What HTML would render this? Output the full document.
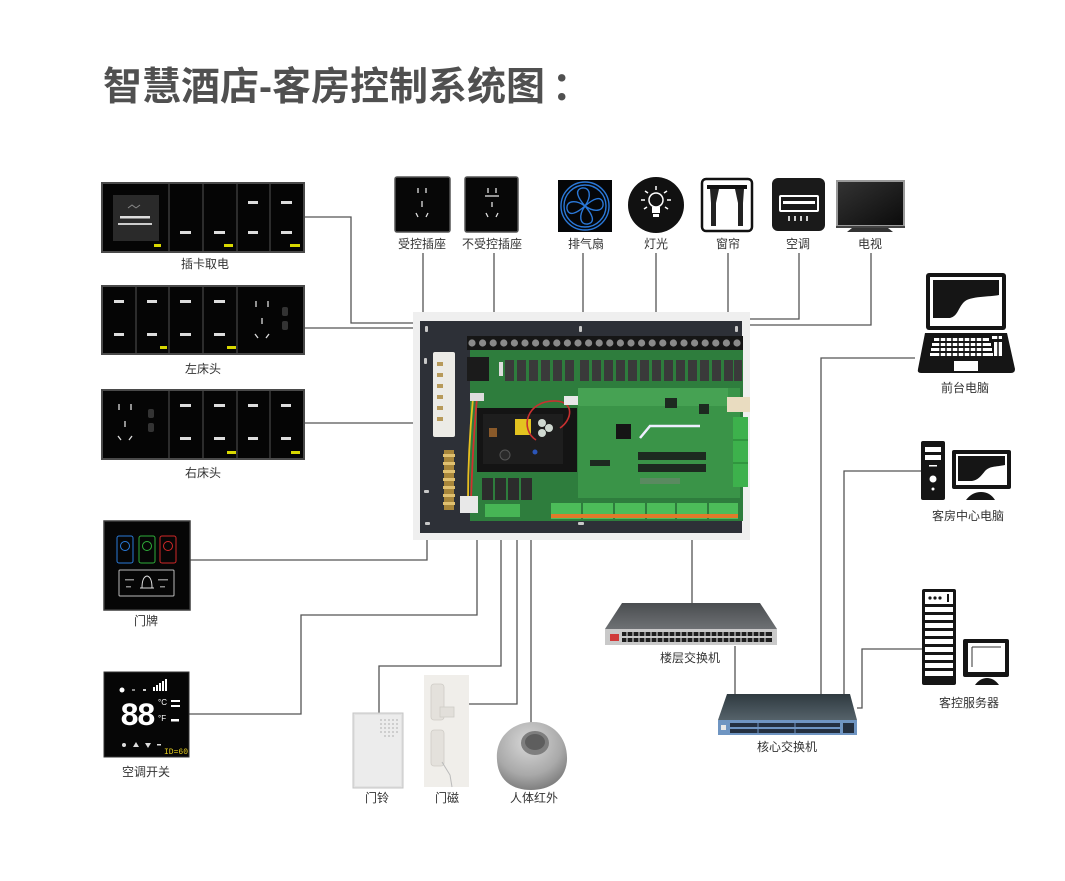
<!DOCTYPE html>
<html>
<head>
<meta charset="utf-8">
<style>
html,body{margin:0;padding:0;background:#fff;}
body{width:1065px;height:881px;overflow:hidden;}
svg{display:block;}
.lbl{font-family:"Liberation Sans","Noto Sans CJK SC",sans-serif;font-size:12px;fill:#333;text-anchor:middle;}
.ttl{font-family:"Liberation Sans","Noto Sans CJK SC",sans-serif;font-size:39px;font-weight:bold;fill:#505050;}
.ln{stroke:#555;stroke-width:1.3;fill:none;}
</style>
</head>
<body>
<svg width="1065" height="881" viewBox="0 0 1065 881" xmlns="http://www.w3.org/2000/svg">
<defs>
<linearGradient id="tvg" x1="0" y1="0" x2="1" y2="1"><stop offset="0" stop-color="#333"/><stop offset="1" stop-color="#0b0b0b"/></linearGradient>
<linearGradient id="swg" x1="0" y1="0" x2="0" y2="1"><stop offset="0" stop-color="#4a4d50"/><stop offset="1" stop-color="#6e7174"/></linearGradient>
<linearGradient id="csg" x1="0" y1="0" x2="0" y2="1"><stop offset="0" stop-color="#2f3a40"/><stop offset="1" stop-color="#55626a"/></linearGradient>
<radialGradient id="pir" cx="0.45" cy="0.3" r="0.8"><stop offset="0" stop-color="#d8d8d8"/><stop offset="0.6" stop-color="#a9a9a9"/><stop offset="1" stop-color="#6d6d6d"/></radialGradient>
</defs>

<!-- Title -->
<text x="103" y="100" class="ttl">智慧酒店-客房控制系统图</text>
<text x="552" y="100" class="ttl">：</text>

<!-- ============ connectors ============ -->
<g class="ln">
  <polyline points="304,217 351,217 351,323 415,323"/>
  <line x1="304" y1="328" x2="415" y2="328"/>
  <line x1="304" y1="423" x2="415" y2="423"/>
  <line x1="423" y1="253" x2="423" y2="313"/>
  <line x1="494" y1="253" x2="494" y2="313"/>
  <line x1="583" y1="253" x2="583" y2="313"/>
  <line x1="656" y1="253" x2="656" y2="313"/>
  <line x1="728" y1="253" x2="728" y2="313"/>
  <polyline points="799,253 799,319 750,319"/>
  <polyline points="871,253 871,325 750,325"/>
  <polyline points="427,540 427,560 190,560"/>
  <polyline points="477,540 477,615 301,615 301,714 189,714"/>
  <polyline points="501,540 501,666 379,666 379,713"/>
  <polyline points="517,540 517,704 469,704"/>
  <line x1="531" y1="540" x2="531" y2="723"/>
  <line x1="692" y1="540" x2="692" y2="603"/>
  <line x1="735" y1="646" x2="735" y2="694"/>
  <polyline points="915,358 821,358 821,694"/>
  <polyline points="921,471 844,471 844,694"/>
  <polyline points="922,649 862,649 862,708 857,708"/>
</g>

<!-- ============ left panels ============ -->
<g>
  <rect x="102" y="183" width="202" height="69" fill="#050505" stroke="#4a4a4a" stroke-width="2"/>
  <g stroke="#3a3a3a" stroke-width="1.5"><line x1="169" y1="184" x2="169" y2="251"/><line x1="203" y1="184" x2="203" y2="251"/><line x1="237" y1="184" x2="237" y2="251"/><line x1="270" y1="184" x2="270" y2="251"/></g>
  <rect x="113" y="195" width="46" height="46" fill="#2a2a2a"/>
  <path d="M128 208 l4 -3 l4 3 M136 208 l4 -3" stroke="#888" stroke-width="1" fill="none"/>
  <rect x="120" y="216" width="30" height="2.5" fill="#ddd"/>
  <rect x="118" y="223" width="34" height="2" fill="#ccc"/>
  <g fill="#ddd">
    <rect x="180" y="231" width="11" height="3"/><rect x="214" y="231" width="11" height="3"/>
    <rect x="248" y="201" width="10" height="3"/><rect x="248" y="231" width="10" height="3"/>
    <rect x="281" y="201" width="11" height="3"/><rect x="281" y="231" width="11" height="3"/>
  </g>
  <g fill="#d8d800"><rect x="154" y="244" width="7" height="3"/><rect x="224" y="244" width="9" height="3"/><rect x="290" y="244" width="10" height="3"/></g>
</g>
<text x="205" y="268" class="lbl">插卡取电</text>

<g>
  <rect x="102" y="286" width="202" height="68" fill="#050505" stroke="#4a4a4a" stroke-width="2"/>
  <g stroke="#3a3a3a" stroke-width="1.5"><line x1="136" y1="287" x2="136" y2="353"/><line x1="169" y1="287" x2="169" y2="353"/><line x1="203" y1="287" x2="203" y2="353"/><line x1="237" y1="287" x2="237" y2="353"/></g>
  <g fill="#ddd">
    <rect x="114" y="300" width="10" height="3"/><rect x="114" y="333" width="10" height="3"/>
    <rect x="147" y="300" width="10" height="3"/><rect x="147" y="333" width="10" height="3"/>
    <rect x="180" y="300" width="11" height="3"/><rect x="180" y="333" width="11" height="3"/>
    <rect x="214" y="300" width="11" height="3"/><rect x="214" y="333" width="11" height="3"/>
  </g>
  <g stroke="#ddd" stroke-width="1.3" fill="none">
    <line x1="256" y1="301" x2="256" y2="307"/><line x1="268" y1="301" x2="268" y2="307"/>
    <line x1="262" y1="318" x2="262" y2="324"/>
    <path d="M255 334 l3 4 M269 334 l-3 4"/>
  </g>
  <rect x="282" y="307" width="6" height="9" rx="2" fill="#333"/><rect x="282" y="321" width="6" height="9" rx="2" fill="#333"/>
  <g fill="#d8d800"><rect x="160" y="346" width="7" height="3"/><rect x="227" y="346" width="9" height="3"/></g>
</g>
<text x="203" y="373" class="lbl">左床头</text>

<g>
  <rect x="102" y="390" width="202" height="69" fill="#050505" stroke="#4a4a4a" stroke-width="2"/>
  <g stroke="#3a3a3a" stroke-width="1.5"><line x1="169" y1="391" x2="169" y2="458"/><line x1="203" y1="391" x2="203" y2="458"/><line x1="237" y1="391" x2="237" y2="458"/><line x1="270" y1="391" x2="270" y2="458"/></g>
  <g stroke="#ddd" stroke-width="1.3" fill="none">
    <line x1="119" y1="404" x2="119" y2="410"/><line x1="131" y1="404" x2="131" y2="410"/>
    <line x1="125" y1="421" x2="125" y2="427"/>
    <path d="M118 436 l3 4 M132 436 l-3 4"/>
  </g>
  <rect x="148" y="409" width="6" height="9" rx="2" fill="#333"/><rect x="148" y="423" width="6" height="9" rx="2" fill="#333"/>
  <g fill="#ddd">
    <rect x="180" y="404" width="11" height="3"/><rect x="180" y="437" width="11" height="3"/>
    <rect x="214" y="404" width="11" height="3"/><rect x="214" y="437" width="11" height="3"/>
    <rect x="248" y="404" width="10" height="3"/><rect x="248" y="437" width="10" height="3"/>
    <rect x="281" y="404" width="10" height="3"/><rect x="281" y="437" width="10" height="3"/>
  </g>
  <g fill="#d8d800"><rect x="227" y="451" width="9" height="3"/><rect x="291" y="451" width="9" height="3"/></g>
</g>
<text x="203" y="477" class="lbl">右床头</text>

<!-- ============ top devices ============ -->
<g>
  <rect x="395" y="177" width="55" height="55" rx="2" fill="#070707" stroke="#555" stroke-width="1.5"/>
  <g stroke="#e0e0e0" stroke-width="1.3" fill="none">
    <line x1="418" y1="188" x2="418" y2="193"/><line x1="426" y1="188" x2="426" y2="193"/>
    <line x1="422" y1="201" x2="422" y2="207"/>
    <path d="M416 213 l2 4 M428 213 l-2 4"/>
  </g>
</g>
<text x="422" y="248" class="lbl">受控插座</text>
<g>
  <rect x="465" y="177" width="53" height="55" rx="2" fill="#070707" stroke="#555" stroke-width="1.5"/>
  <g stroke="#e0e0e0" stroke-width="1.3" fill="none">
    <line x1="488" y1="188" x2="488" y2="193"/><line x1="496" y1="188" x2="496" y2="193"/>
    <line x1="485" y1="196" x2="499" y2="196"/>
    <line x1="492" y1="202" x2="492" y2="207"/>
    <path d="M486 213 l2 4 M498 213 l-2 4"/>
  </g>
</g>
<text x="492" y="248" class="lbl">不受控插座</text>
<g>
  <rect x="558" y="180" width="54" height="52" fill="#050608"/>
  <circle cx="585" cy="206" r="24" fill="none" stroke="#2a78d8" stroke-width="1.4"/>
  <circle cx="585" cy="206" r="21" fill="none" stroke="#2a78d8" stroke-width="1.4"/>
  <g fill="none" stroke="#2a78d8" stroke-width="1.4">
    <path d="M585 206 C578 198 574 190 582 188 C590 187 592 196 585 206"/>
    <path d="M585 206 C593 199 601 195 603 203 C604 211 595 213 585 206"/>
    <path d="M585 206 C592 214 596 222 588 224 C580 225 578 216 585 206"/>
    <path d="M585 206 C577 213 569 217 567 209 C566 201 575 199 585 206"/>
  </g>
</g>
<text x="586" y="248" class="lbl">排气扇</text>
<g>
  <circle cx="656" cy="205" r="28" fill="#111"/>
  <circle cx="656" cy="200" r="7" fill="none" stroke="#fff" stroke-width="1.5"/>
  <rect x="652" y="207" width="8" height="6" fill="#fff"/>
  <rect x="653" y="214" width="6" height="3" fill="#fff"/>
  <g stroke="#fff" stroke-width="1.5">
    <line x1="656" y1="186" x2="656" y2="190"/><line x1="645" y1="191" x2="648" y2="193"/><line x1="667" y1="191" x2="664" y2="193"/>
    <line x1="641" y1="200" x2="645" y2="200"/><line x1="671" y1="200" x2="667" y2="200"/>
    <line x1="644" y1="209" x2="647" y2="207"/><line x1="668" y1="209" x2="665" y2="207"/>
  </g>
</g>
<text x="656" y="248" class="lbl">灯光</text>
<g>
  <rect x="702" y="179" width="50" height="52" rx="4" fill="#fff" stroke="#111" stroke-width="2.5"/>
  <rect x="707" y="185" width="40" height="4" fill="#111"/>
  <path d="M710 189 L719 189 L716 203 L716 226 L711 226 L711 203 Z" fill="#222"/>
  <path d="M744 189 L735 189 L738 203 L738 226 L743 226 L743 203 Z" fill="#222"/>
</g>
<text x="728" y="248" class="lbl">窗帘</text>
<g>
  <rect x="772" y="178" width="53" height="53" rx="6" fill="#1a1a1a"/>
  <rect x="780" y="196" width="38" height="15" rx="1" fill="none" stroke="#fff" stroke-width="2"/>
  <rect x="783" y="201" width="32" height="3" fill="#fff"/>
  <g stroke="#fff" stroke-width="1.6"><line x1="789" y1="216" x2="789" y2="221"/><line x1="795" y1="216" x2="795" y2="221"/><line x1="801" y1="216" x2="801" y2="221"/><line x1="807" y1="216" x2="807" y2="221"/></g>
</g>
<text x="798" y="248" class="lbl">空调</text>
<g>
  <rect x="836" y="180" width="69" height="48" fill="#9a9a9a"/>
  <rect x="838" y="182" width="65" height="43" fill="url(#tvg)"/>
  <rect x="836" y="226" width="69" height="2" fill="#444"/>
  <path d="M852 228 L888 228 L893 232 L847 232 Z" fill="#333"/>
</g>
<text x="870" y="248" class="lbl">电视</text>

<!-- ============ controller board ============ -->
<g>
  <rect x="413" y="312" width="337" height="228" fill="#efefef"/>
  <rect x="420" y="321" width="322" height="212" fill="#2d3037"/>
  <g fill="#c8c8c8">
    <rect x="425" y="326" width="3" height="6" rx="1"/><rect x="579" y="326" width="3" height="6" rx="1"/><rect x="735" y="326" width="3" height="6" rx="1"/>
    <rect x="424" y="358" width="3" height="6" rx="1"/><rect x="424" y="490" width="5" height="3" rx="1"/><rect x="425" y="522" width="5" height="3" rx="1"/><rect x="578" y="522" width="6" height="3" rx="1"/>
  </g>
  <rect x="470" y="348" width="273" height="173" fill="#2e7d3d"/>
  <rect x="467" y="336" width="276" height="14" fill="#161616"/>
  <g fill="#8a8a8a">
    <circle cx="472" cy="343" r="3.6"/><circle cx="482.6" cy="343" r="3.6"/><circle cx="493.2" cy="343" r="3.6"/><circle cx="503.8" cy="343" r="3.6"/><circle cx="514.4" cy="343" r="3.6"/><circle cx="525" cy="343" r="3.6"/><circle cx="535.6" cy="343" r="3.6"/><circle cx="546.2" cy="343" r="3.6"/><circle cx="556.8" cy="343" r="3.6"/><circle cx="567.4" cy="343" r="3.6"/><circle cx="578" cy="343" r="3.6"/><circle cx="588.6" cy="343" r="3.6"/><circle cx="599.2" cy="343" r="3.6"/><circle cx="609.8" cy="343" r="3.6"/><circle cx="620.4" cy="343" r="3.6"/><circle cx="631" cy="343" r="3.6"/><circle cx="641.6" cy="343" r="3.6"/><circle cx="652.2" cy="343" r="3.6"/><circle cx="662.8" cy="343" r="3.6"/><circle cx="673.4" cy="343" r="3.6"/><circle cx="684" cy="343" r="3.6"/><circle cx="694.6" cy="343" r="3.6"/><circle cx="705.2" cy="343" r="3.6"/><circle cx="715.8" cy="343" r="3.6"/><circle cx="726.4" cy="343" r="3.6"/><circle cx="737" cy="343" r="3.6"/>
  </g>
  <rect x="467" y="357" width="22" height="24" fill="#1b1b1b"/>
  <g fill="#3a3a3a">
    <rect x="505" y="360" width="9" height="21"/><rect x="517" y="360" width="9" height="21"/><rect x="529" y="360" width="9" height="21"/><rect x="541" y="360" width="9" height="21"/><rect x="553" y="360" width="9" height="21"/><rect x="565" y="360" width="9" height="21"/>
    <rect x="580" y="360" width="9" height="21"/><rect x="592" y="360" width="9" height="21"/><rect x="604" y="360" width="9" height="21"/><rect x="616" y="360" width="9" height="21"/><rect x="628" y="360" width="9" height="21"/><rect x="640" y="360" width="9" height="21"/><rect x="652" y="360" width="9" height="21"/><rect x="664" y="360" width="9" height="21"/><rect x="676" y="360" width="9" height="21"/><rect x="688" y="360" width="9" height="21"/><rect x="700" y="360" width="9" height="21"/><rect x="712" y="360" width="9" height="21"/><rect x="724" y="360" width="9" height="21"/><rect x="734" y="360" width="8" height="21"/>
  </g>
  <rect x="499" y="362" width="4" height="14" fill="#ddd"/>
  <rect x="433" y="352" width="22" height="85" rx="2" fill="#ecebe6"/>
  <g fill="#b79a5a"><rect x="437" y="362" width="6" height="4"/><rect x="437" y="373" width="6" height="4"/><rect x="437" y="384" width="6" height="4"/><rect x="437" y="395" width="6" height="4"/><rect x="437" y="406" width="6" height="4"/><rect x="437" y="417" width="6" height="4"/></g>
  <rect x="444" y="450" width="10" height="60" fill="#a8863a"/>
  <g fill="#e0c070"><rect x="443" y="454" width="12" height="3"/><rect x="443" y="462" width="12" height="3"/><rect x="443" y="470" width="12" height="3"/><rect x="443" y="478" width="12" height="3"/><rect x="443" y="486" width="12" height="3"/><rect x="443" y="494" width="12" height="3"/><rect x="443" y="502" width="12" height="3"/></g>
  <path d="M473 398 C470 430 468 470 468 500" stroke="#e8c020" stroke-width="1.8" fill="none"/>
  <path d="M477 398 C474 430 472 470 471 500" stroke="#d03030" stroke-width="1.8" fill="none"/>
  <rect x="470" y="393" width="14" height="8" fill="#ddd"/>
  <rect x="460" y="496" width="18" height="17" fill="#e8e8e8"/>
  <rect x="477" y="408" width="100" height="64" fill="#141414"/>
  <rect x="483" y="414" width="80" height="50" fill="#1e1e1e"/>
  <rect x="515" y="419" width="16" height="16" fill="#e3c320"/>
  <rect x="489" y="428" width="8" height="9" fill="#8a5a2a"/>
  <circle cx="542" cy="423" r="4" fill="#cfd8d0"/><circle cx="549" cy="428" r="4" fill="#cfd8d0"/><circle cx="542" cy="433" r="4" fill="#cfd8d0"/>
  <circle cx="505" cy="455" r="5" fill="#2a2a2a" stroke="#555"/>
  <circle cx="535" cy="452" r="2.5" fill="#2b55b8"/>
  <path d="M536 440 C520 430 525 400 556 401 C575 402 572 420 560 428" stroke="#c83030" stroke-width="1.6" fill="none"/>
  <rect x="564" y="396" width="16" height="9" fill="#e8e8e8"/>
  <rect x="578" y="388" width="162" height="110" fill="#3a9448"/>
  <rect x="578" y="388" width="150" height="18" fill="#46a253"/>
  <rect x="616" y="424" width="15" height="15" fill="#151515"/>
  <path d="M640 438 L650 426 L700 426" stroke="#eef" stroke-width="2.5" fill="none"/>
  <rect x="638" y="452" width="68" height="8" fill="#1d2a20"/>
  <rect x="638" y="464" width="68" height="8" fill="#1d2a20"/>
  <rect x="590" y="460" width="20" height="6" fill="#1d2a20"/>
  <rect x="640" y="478" width="40" height="6" fill="#5a8a60"/>
  <rect x="665" y="398" width="12" height="10" fill="#1d2a20"/>
  <rect x="699" y="404" width="10" height="10" fill="#1d2a20"/>
  <rect x="727" y="397" width="23" height="15" fill="#e9dcc0"/>
  <rect x="733" y="417" width="15" height="70" fill="#3db14c"/>
  <g stroke="#237a2f" stroke-width="1"><line x1="733" y1="440" x2="748" y2="440"/><line x1="733" y1="463" x2="748" y2="463"/></g>
  <g fill="#2c2c2c"><rect x="482" y="478" width="11" height="22"/><rect x="495" y="478" width="11" height="22"/><rect x="508" y="478" width="11" height="22"/><rect x="521" y="478" width="11" height="22"/></g>
  <rect x="485" y="504" width="35" height="13" fill="#47b555"/>
  <g>
    <rect x="551" y="503" width="30" height="16" fill="#4cbc59"/><rect x="583" y="503" width="30" height="16" fill="#4cbc59"/><rect x="615" y="503" width="30" height="16" fill="#4cbc59"/><rect x="647" y="503" width="28" height="16" fill="#4cbc59"/><rect x="677" y="503" width="30" height="16" fill="#4cbc59"/><rect x="709" y="503" width="29" height="16" fill="#4cbc59"/>
    <rect x="551" y="514" width="187" height="4" fill="#e07a2a"/>
  </g>
</g>

<!-- ============ switches ============ -->
<g>
  <polygon points="622,603 760,603 777,629 605,629" fill="url(#swg)"/>
  <rect x="605" y="629" width="172" height="16" fill="#c9c9c9"/>
  <rect x="610" y="634" width="9" height="7" fill="#d03a3a"/>
  <g fill="#1e1e1e">
    <rect x="622" y="632" width="150" height="4"/><rect x="622" y="638" width="150" height="4"/>
  </g>
  <g stroke="#c9c9c9" stroke-width="1.2">
    <line x1="627" y1="631" x2="627" y2="643"/><line x1="633" y1="631" x2="633" y2="643"/><line x1="639" y1="631" x2="639" y2="643"/><line x1="645" y1="631" x2="645" y2="643"/><line x1="651" y1="631" x2="651" y2="643"/><line x1="657" y1="631" x2="657" y2="643"/><line x1="663" y1="631" x2="663" y2="643"/><line x1="669" y1="631" x2="669" y2="643"/><line x1="675" y1="631" x2="675" y2="643"/><line x1="681" y1="631" x2="681" y2="643"/><line x1="687" y1="631" x2="687" y2="643"/><line x1="693" y1="631" x2="693" y2="643"/><line x1="699" y1="631" x2="699" y2="643"/><line x1="705" y1="631" x2="705" y2="643"/><line x1="711" y1="631" x2="711" y2="643"/><line x1="717" y1="631" x2="717" y2="643"/><line x1="723" y1="631" x2="723" y2="643"/><line x1="729" y1="631" x2="729" y2="643"/><line x1="735" y1="631" x2="735" y2="643"/><line x1="741" y1="631" x2="741" y2="643"/><line x1="747" y1="631" x2="747" y2="643"/><line x1="753" y1="631" x2="753" y2="643"/><line x1="759" y1="631" x2="759" y2="643"/><line x1="765" y1="631" x2="765" y2="643"/>
  </g>
</g>
<text x="690" y="662" class="lbl">楼层交换机</text>

<g>
  <polygon points="727,694 850,694 857,720 718,720" fill="url(#csg)"/>
  <rect x="718" y="720" width="139" height="15" fill="#6f95c2"/>
  <g fill="#243040">
    <rect x="730" y="723" width="110" height="4"/><rect x="730" y="729" width="110" height="4"/><rect x="843" y="723" width="11" height="10"/>
  </g>
  <rect x="721" y="725" width="5" height="5" fill="#e8e8e8"/>
  <g stroke="#6f95c2" stroke-width="1"><line x1="758" y1="722" x2="758" y2="734"/><line x1="795" y1="722" x2="795" y2="734"/></g>
</g>
<text x="787" y="751" class="lbl">核心交换机</text>

<!-- ============ right computers ============ -->
<g>
  <rect x="926" y="273" width="80" height="57" rx="3" fill="#151515"/>
  <rect x="930" y="277" width="72" height="49" fill="#fff"/>
  <path d="M933 280 L999 280 L999 295 C990 297 970 296 964 302 C958 308 958 316 950 318 L933 318 Z" fill="#151515"/>
  <path d="M925 333 L1007 333 L1015 369 Q1015 373 1011 373 L921 373 Q917 373 918 369 Z" fill="#151515"/>
  <g fill="#fff">
    <rect x="934" y="338" width="55" height="3"/><rect x="932" y="343" width="59" height="3"/><rect x="931" y="348" width="61" height="3"/><rect x="930" y="353" width="63" height="3"/>
    <rect x="992" y="336" width="10" height="3"/><rect x="994" y="342" width="8" height="14"/>
    <rect x="954" y="361" width="24" height="10"/>
  </g>
  <g stroke="#151515" stroke-width="1.5">
    <line x1="940" y1="336" x2="940" y2="358"/><line x1="946" y1="336" x2="946" y2="358"/><line x1="952" y1="336" x2="952" y2="358"/><line x1="958" y1="336" x2="958" y2="358"/><line x1="964" y1="336" x2="964" y2="358"/><line x1="970" y1="336" x2="970" y2="358"/><line x1="976" y1="336" x2="976" y2="358"/><line x1="982" y1="336" x2="982" y2="358"/><line x1="998" y1="336" x2="998" y2="358"/>
  </g>
</g>
<text x="965" y="392" class="lbl">前台电脑</text>

<g>
  <rect x="921" y="441" width="24" height="59" rx="2" fill="#151515"/>
  <rect x="925" y="447" width="16" height="5" fill="#fff"/><rect x="925" y="455" width="16" height="5" fill="#fff"/>
  <rect x="929" y="465" width="8" height="1.5" fill="#fff"/>
  <circle cx="933" cy="479" r="3.5" fill="#fff"/><circle cx="933" cy="489" r="1.5" fill="#fff"/>
  <rect x="952" y="450" width="59" height="39" rx="2" fill="#151515"/>
  <rect x="956" y="454" width="51" height="31" fill="#fff"/>
  <path d="M958 456 L1005 456 L1005 465 C995 467 990 466 985 471 C981 476 978 480 972 481 L958 481 Z" fill="#151515"/>
  <path d="M966 500 Q972 492 981 492 Q990 492 995 500 Z" fill="#151515"/>
</g>
<text x="968" y="520" class="lbl">客房中心电脑</text>

<g>
  <rect x="922" y="589" width="34" height="96" rx="2" fill="#151515"/>
  <rect x="925" y="592" width="28" height="12" fill="#fff"/>
  <circle cx="930" cy="598" r="1.6" fill="#151515"/><circle cx="935" cy="598" r="1.6" fill="#151515"/><circle cx="940" cy="598" r="1.6" fill="#151515"/><rect x="947" y="594" width="2" height="8" fill="#151515"/>
  <g fill="#fff">
    <rect x="925" y="607" width="28" height="5"/><rect x="925" y="615" width="28" height="5"/><rect x="925" y="623" width="28" height="5"/><rect x="925" y="631" width="28" height="5"/><rect x="925" y="639" width="28" height="5"/><rect x="925" y="647" width="28" height="5"/><rect x="925" y="655" width="28" height="5"/><rect x="925" y="663" width="28" height="5"/><rect x="925" y="671" width="28" height="5"/>
  </g>
  <rect x="963" y="639" width="46" height="38" rx="2" fill="#151515"/>
  <rect x="968" y="643" width="37" height="29" fill="#fff"/>
  <path d="M972 647 L1001 647 M972 647 L972 667" stroke="#333" stroke-width="1" fill="none"/>
  <path d="M975 685 Q980 678 987 678 Q994 678 999 685 Z" fill="#151515"/>
</g>
<text x="969" y="707" class="lbl">客控服务器</text>

<!-- ============ bottom-left devices ============ -->
<g>
  <rect x="104" y="521" width="86" height="89" fill="#060606" stroke="#3c3c3c" stroke-width="1.5"/>
  <rect x="117" y="536" width="16" height="27" rx="2" fill="none" stroke="#2a7ad8" stroke-width="1"/>
  <circle cx="125" cy="546" r="4.5" fill="none" stroke="#2a7ad8" stroke-width="1"/>
  <rect x="139" y="536" width="16" height="27" rx="2" fill="none" stroke="#2fae3a" stroke-width="1"/>
  <circle cx="147" cy="546" r="4.5" fill="none" stroke="#2fae3a" stroke-width="1"/>
  <rect x="160" y="536" width="16" height="27" rx="2" fill="none" stroke="#d02828" stroke-width="1"/>
  <circle cx="168" cy="546" r="4.5" fill="none" stroke="#d02828" stroke-width="1"/>
  <rect x="119" y="570" width="55" height="26" rx="1" fill="none" stroke="#bbb" stroke-width="1"/>
  <path d="M142 588 Q142 577 147 576 Q152 577 152 588 Z" fill="none" stroke="#ddd" stroke-width="1"/>
  <line x1="140" y1="588" x2="154" y2="588" stroke="#ddd" stroke-width="1"/>
  <g fill="#888"><rect x="125" y="579" width="9" height="1.5"/><rect x="126" y="586" width="5" height="1.5"/><rect x="158" y="579" width="10" height="1.5"/><rect x="160" y="586" width="5" height="1.5"/></g>
</g>
<text x="146" y="625" class="lbl">门牌</text>

<g>
  <rect x="104" y="672" width="85" height="85" fill="#060606" stroke="#333" stroke-width="1"/>
  <circle cx="122" cy="690" r="2.5" fill="#fff"/>
  <rect x="132" y="689" width="3" height="2" fill="#888"/><rect x="143" y="689" width="3" height="2" fill="#ccc"/>
  <g fill="#fff"><rect x="153" y="687" width="2" height="4"/><rect x="156" y="685" width="2" height="6"/><rect x="159" y="683" width="2" height="8"/><rect x="162" y="681" width="2" height="10"/><rect x="165" y="679" width="2" height="12"/></g>
  <text x="120" y="725" font-family="Liberation Mono, monospace" font-size="32" font-weight="bold" fill="#fff" textLength="36">88</text>
  <text x="158" y="705" font-family="Liberation Sans, sans-serif" font-size="8" fill="#fff">°C</text>
  <text x="158" y="721" font-family="Liberation Sans, sans-serif" font-size="8" fill="#fff">°F</text>
  <rect x="171" y="700" width="9" height="2" fill="#fff"/><rect x="171" y="705" width="9" height="2" fill="#fff"/><rect x="171" y="719" width="8" height="2.5" fill="#fff"/>
  <g fill="#ddd"><circle cx="124" cy="745" r="2"/><path d="M133 747 l3 -5 l3 5 Z"/><path d="M145 743 l3 5 l3 -5 Z"/><rect x="157" y="744" width="4" height="1.5"/></g>
  <text x="164" y="754" font-family="Liberation Mono, monospace" font-size="8" fill="#e8d020">ID=60</text>
</g>
<text x="146" y="776" class="lbl">空调开关</text>

<g>
  <rect x="353" y="713" width="50" height="75" fill="#e2e2e2" stroke="#c4c4c4" stroke-width="1"/>
  <rect x="355" y="715" width="46" height="71" fill="#ececec"/>
  <g fill="#b8b8b8">
    <circle cx="381" cy="720" r="0.9"/><circle cx="385" cy="720" r="0.9"/><circle cx="389" cy="720" r="0.9"/><circle cx="393" cy="720" r="0.9"/><circle cx="397" cy="720" r="0.9"/>
    <circle cx="381" cy="724" r="0.9"/><circle cx="385" cy="724" r="0.9"/><circle cx="389" cy="724" r="0.9"/><circle cx="393" cy="724" r="0.9"/><circle cx="397" cy="724" r="0.9"/>
    <circle cx="381" cy="728" r="0.9"/><circle cx="385" cy="728" r="0.9"/><circle cx="389" cy="728" r="0.9"/><circle cx="393" cy="728" r="0.9"/><circle cx="397" cy="728" r="0.9"/>
    <circle cx="381" cy="732" r="0.9"/><circle cx="385" cy="732" r="0.9"/><circle cx="389" cy="732" r="0.9"/><circle cx="393" cy="732" r="0.9"/><circle cx="397" cy="732" r="0.9"/>
    <circle cx="385" cy="736" r="0.9"/><circle cx="389" cy="736" r="0.9"/><circle cx="393" cy="736" r="0.9"/>
  </g>
</g>
<text x="377" y="802" class="lbl">门铃</text>

<g>
  <rect x="424" y="675" width="45" height="112" fill="#f0eeea"/>
  <rect x="431" y="684" width="13" height="36" rx="3" fill="#e4e1dc" stroke="#cfccc6" stroke-width="0.8"/>
  <rect x="440" y="707" width="14" height="10" fill="#e2dfda" stroke="#cfccc6" stroke-width="0.8"/>
  <rect x="431" y="730" width="13" height="36" rx="3" fill="#e4e1dc" stroke="#cfccc6" stroke-width="0.8"/>
  <path d="M442 762 L450 775 L452 787" stroke="#bbb" stroke-width="1" fill="none"/>
</g>
<text x="447" y="802" class="lbl">门磁</text>

<g>
  <path d="M497 760 C495 735 515 722 533 722 C553 722 568 738 567 760 C566 780 550 790 531 790 C512 790 498 780 497 760 Z" fill="url(#pir)"/>
  <ellipse cx="535" cy="743" rx="14" ry="12" fill="#7e7e7e"/>
  <ellipse cx="535" cy="742" rx="10" ry="8" fill="#5e5e5e"/>
</g>
<text x="534" y="802" class="lbl">人体红外</text>

</svg>
</body>
</html>
